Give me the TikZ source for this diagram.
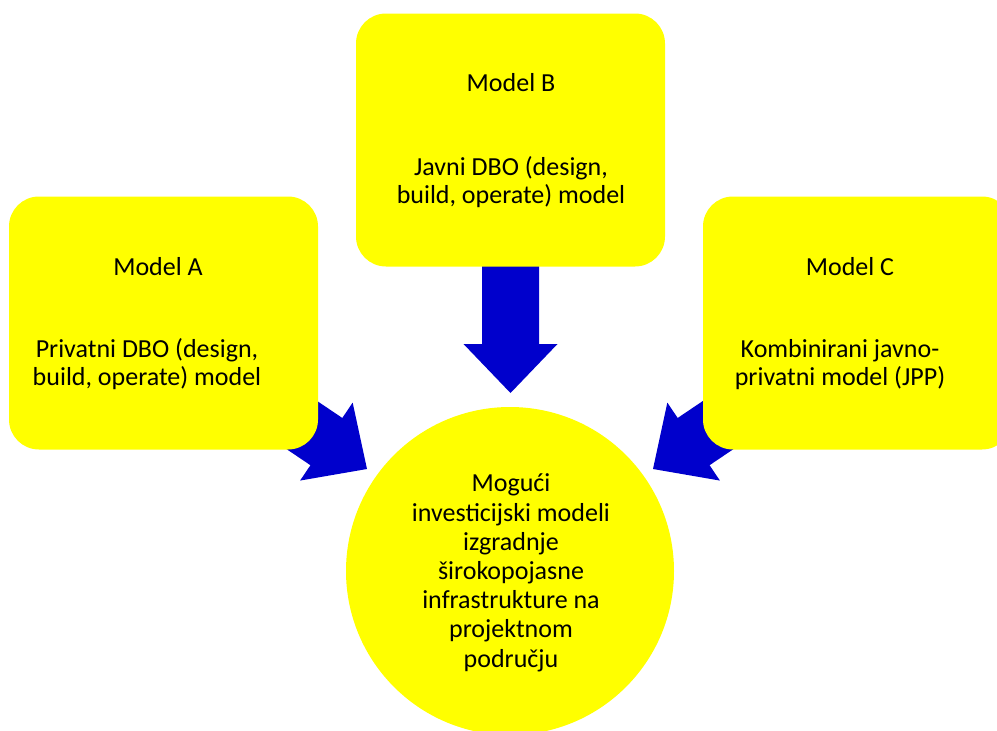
\documentclass[tikz,border=0pt]{standalone}
\usepackage{fontspec}
\setmainfont{Carlito}
\definecolor{boxyellow}{RGB}{255,255,0}
\definecolor{arrowblue}{RGB}{0,0,204}
\tikzset{
  modelbox/.style={rectangle, rounded corners=30pt, fill=boxyellow, minimum width=309pt, minimum height=253pt, inner sep=0pt},
  hubcircle/.style={circle, fill=boxyellow, minimum size=328pt, inner sep=0pt},
  txt/.style={font=\fontsize{26}{28}\selectfont, align=center, inner sep=0pt, anchor=base},
  hubtxt/.style={txt, font=\fontsize{26}{29.2}\selectfont},
  blockarrow/.pic={\fill[arrowblue] (0,0) -- (-49,47) -- (-49,28.5) -- (-150,28.5) -- (-150,-28.5) -- (-49,-28.5) -- (-49,-47) -- cycle;}
}
\begin{document}
\begin{tikzpicture}[x=1pt,y=-1pt]
\useasboundingbox (0,0) rectangle (997,731);
\clip (0,0) rectangle (997,731);
% arrow tips
\coordinate (tipA) at (367,469);
\coordinate (tipB) at (510.5,393);
\coordinate (tipC) at (653,469);
\pic[rotate=-34] at (tipA) {blockarrow};
\pic[rotate=-90] at (tipB) {blockarrow};
\pic[rotate=-146] at (tipC) {blockarrow};
% boxes
\node[modelbox] (boxA) at (163.5,323) {};
\node[modelbox] (boxB) at (510.5,140) {};
\node[modelbox] (boxC) at (857.5,323) {};
\node[hubcircle] (hub) at (510,571) {};
% texts (anchor base = baseline of the last line)
\node[txt] (titleA) at (158,275) {Model A};
\node[txt] (bodyA) at (147,385) {Privatni DBO (design,\\build, operate) model};
\node[txt] (titleB) at (511,91) {Model B};
\node[txt] (bodyB) at (511,203) {Javni DBO (design,\\build, operate) model};
\node[txt] (titleC) at (850,275) {Model C};
\node[txt] (bodyC) at (840,385) {Kombinirani javno-\\privatni model (JPP)};
\node[hubtxt] (hubtext) at (511,667) {Mogući\\investicijski modeli\\izgradnje\\širokopojasne\\infrastrukture na\\projektnom\\području};
\end{tikzpicture}
\end{document}
